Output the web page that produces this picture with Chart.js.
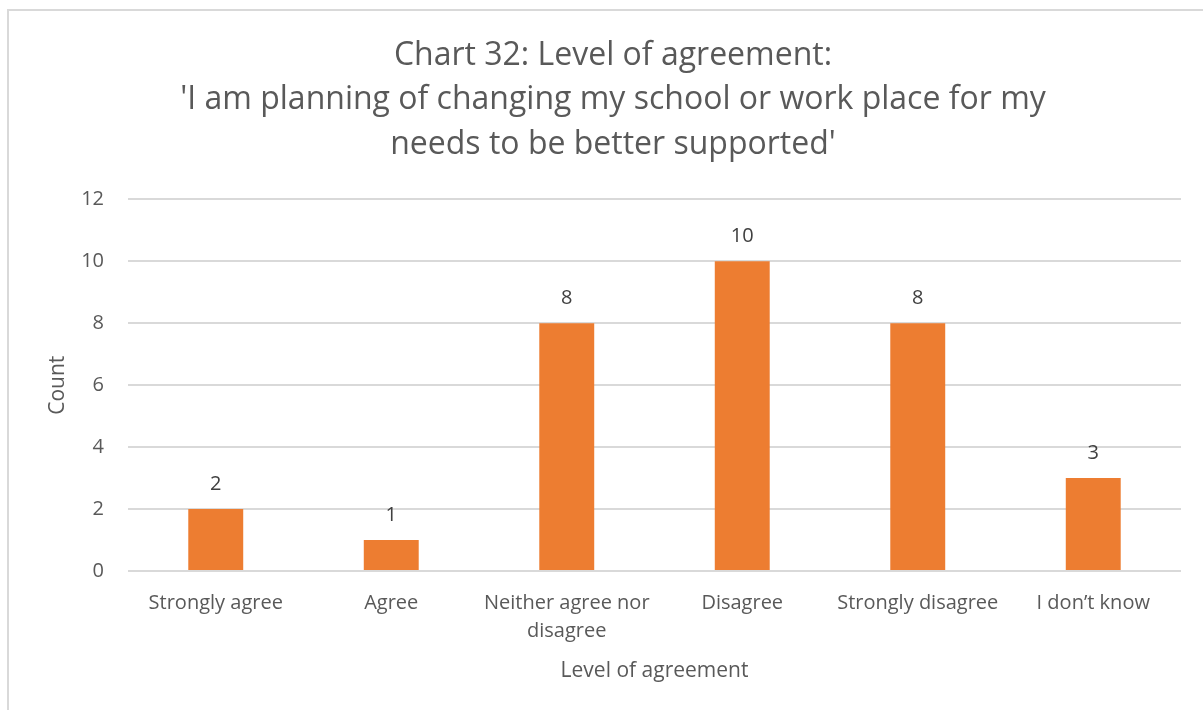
<!DOCTYPE html>
<html>
<head>
<meta charset="utf-8">
<script src="https://cdn.jsdelivr.net/npm/chart.js@4/dist/chart.umd.min.js"></script>
<style>
  html, body { margin: 0; padding: 0; background: #fff; overflow: hidden; }
  #frame {
    position: absolute; left: 7px; top: 9px;
    width: 1220px; height: 720px;
    border: 2px solid #d9d9d9; box-sizing: border-box;
  }
  #wrap { position: absolute; left: 0; top: 0; width: 1203px; height: 710px; }
</style>
</head>
<body>
<div id="frame"></div>
<div id="wrap"><canvas id="chart" width="1203" height="710"></canvas></div>
<script>
  "use strict";

  var titleLines = [
    "Chart 32: Level of agreement:",
    "'I am planning of changing my school or work place for my",
    "needs to be better supported'"
  ];
  var categories = [
    "Strongly agree",
    "Agree",
    ["Neither agree nor", "disagree"],
    "Disagree",
    "Strongly disagree",
    "I don\u2019t know"
  ];
  var counts = [2, 1, 8, 10, 8, 3];
  var yTicks = [0, 2, 4, 6, 8, 10, 12];

  var FONT = "'Open Sans', 'Noto Sans', sans-serif";
  var TEXT = "#595959";
  var PAD = { top: 33, right: 22, bottom: 26, left: 45 };

  // value labels above each bar
  var barLabels = {
    id: "barLabels",
    afterDatasetsDraw: function(chart) {
      var ctx = chart.ctx;
      var meta = chart.getDatasetMeta(0);
      ctx.save();
      ctx.font = "20px " + FONT;
      ctx.fillStyle = "#404040";
      ctx.textAlign = "center";
      ctx.textBaseline = "middle";
      meta.data.forEach(function(bar, i) {
        ctx.fillText(String(counts[i]), bar.x, bar.y - 25);
      });
      ctx.restore();
    }
  };

  new Chart(document.getElementById("chart").getContext("2d"), {
    type: "bar",
    data: {
      labels: categories,
      datasets: [{
        label: "Count",
        data: counts,
        backgroundColor: "#ED7D31",
        borderWidth: 0,
        barPercentage: 0.313,
        categoryPercentage: 1
      }]
    },
    options: {
      responsive: false,
      animation: false,
      layout: { padding: PAD },
      plugins: {
        legend: { display: false },
        tooltip: { enabled: false },
        title: {
          display: true,
          text: titleLines,
          color: TEXT,
          font: { family: FONT, size: 32, weight: "normal", lineHeight: 1.4 },
          padding: { top: 0, bottom: 32 }
        }
      },
      scales: {
        y: {
          min: 0,
          max: 12,
          afterFit: function(axis) { axis.width = 128 - PAD.left; },
          afterBuildTicks: function(axis) {
            axis.ticks = yTicks.map(function(v) { return { value: v }; });
          },
          border: { display: false },
          grid: { color: "#d9d9d9", lineWidth: 2, drawTicks: false },
          ticks: {
            color: TEXT,
            padding: 24,
            font: { family: FONT, size: 20 }
          },
          title: {
            display: true,
            text: "Count",
            color: TEXT,
            font: { family: FONT, size: 21 },
            padding: 0
          }
        },
        x: {
          afterFit: function(axis) { axis.height = 710 - PAD.bottom - 571; },
          border: { display: false },
          grid: { display: false, drawTicks: false },
          ticks: {
            color: TEXT,
            padding: 18,
            maxRotation: 0,
            autoSkip: false,
            font: { family: FONT, size: 20, lineHeight: 1.4 }
          },
          title: {
            display: true,
            text: "Level of agreement",
            color: TEXT,
            font: { family: FONT, size: 21 },
            padding: 0
          }
        }
      }
    },
    plugins: [barLabels]
  });
</script>
</body>
</html>
